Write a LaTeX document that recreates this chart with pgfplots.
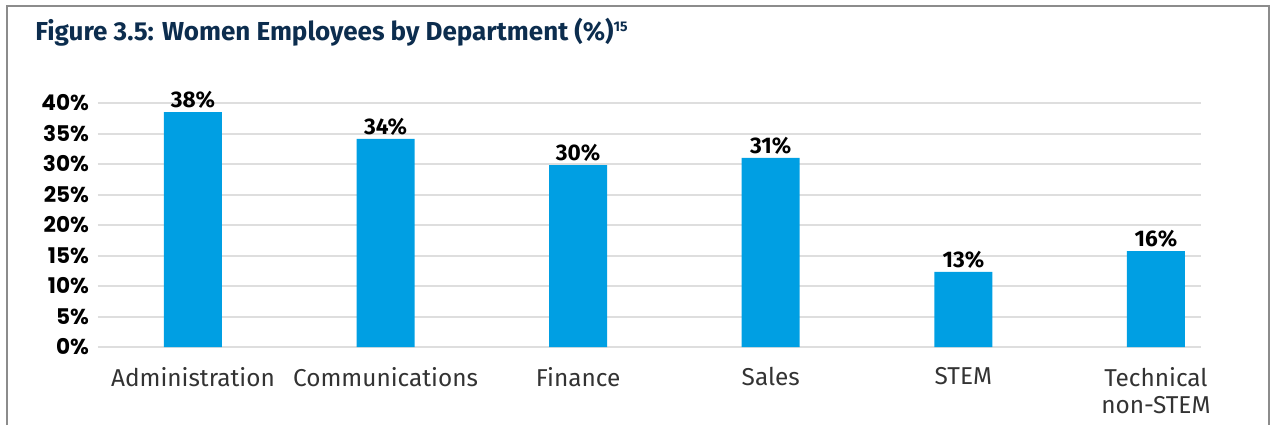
\documentclass[border=0pt]{standalone}
\usepackage{pgfplots}
\pgfplotsset{compat=1.18}
\usepackage{fontspec}
\setmainfont{Fira Sans}
\newfontfamily\popfont{Poppins}

\definecolor{BarBlue}{HTML}{009FE3}
\definecolor{TitleNavy}{HTML}{0C2D4E}
\definecolor{GridGray}{HTML}{DEDEDE}
\definecolor{FrameGray}{HTML}{8C8C8C}
\definecolor{CatGray}{HTML}{333333}

\begin{document}
\begin{tikzpicture}[x=0.5pt,y=0.5pt]
% frame and page size; y counted from the bottom (425 - pixel row)
\useasboundingbox (0,0) rectangle (1271,425);
\draw[FrameGray, line width=1.2pt] (7,0) -- (7,419) -- (1269,419) -- (1269,0);
\node[anchor=base west, text=TitleNavy, font=\fontsize{13}{15}\selectfont\bfseries, inner sep=0pt]
  at (35,385) {Figure 3.5: Women Employees by Department (\%)\textsuperscript{\fontsize{7}{8}\selectfont 15}};

\begin{axis}[
    at={(98pt*0.5,78pt*0.5)}, anchor=south west,
    scale only axis,
    width=551.5pt, height=122pt,
    ybar, bar width=29pt,
    xmin=-0.493, xmax=5.234,
    ymin=0, ymax=40,
    ymajorgrids,
    grid style={GridGray, line width=1pt},
    xtick={0,1,2,3,4,5},
    xticklabels={Administration, Communications, Finance, Sales, STEM, {Technical\\non-STEM}},
    xticklabel style={font=\fontsize{12.2}{13.5}\selectfont, text=CatGray, align=center, anchor=north, yshift=-6.5pt},
    ytick={0,5,...,40},
    yticklabels={0\%,5\%,10\%,15\%,20\%,25\%,30\%,35\%,40\%},
    yticklabel style={font=\popfont\fontsize{10.8}{12}\selectfont\bfseries, anchor=east, xshift=-1pt},
    major tick length=0pt,
    axis x line*=bottom, axis y line*=left,
    x axis line style={draw=none}, y axis line style={draw=none},
    clip=false,
    point meta=explicit symbolic,
    nodes near coords={\pgfplotspointmeta\%},
    nodes near coords style={font=\fontsize{11.3}{12}\selectfont\bfseries, text=black, inner sep=1.5pt},
]
\addplot[fill=BarBlue, draw=none] coordinates {
    (0,38.5) [38]
    (1,34.1) [34]
    (2,29.8) [30]
    (3,31.0) [31]
    (4,12.3) [13]
    (5,15.7) [16]
};
\end{axis}
\end{tikzpicture}
\end{document}
